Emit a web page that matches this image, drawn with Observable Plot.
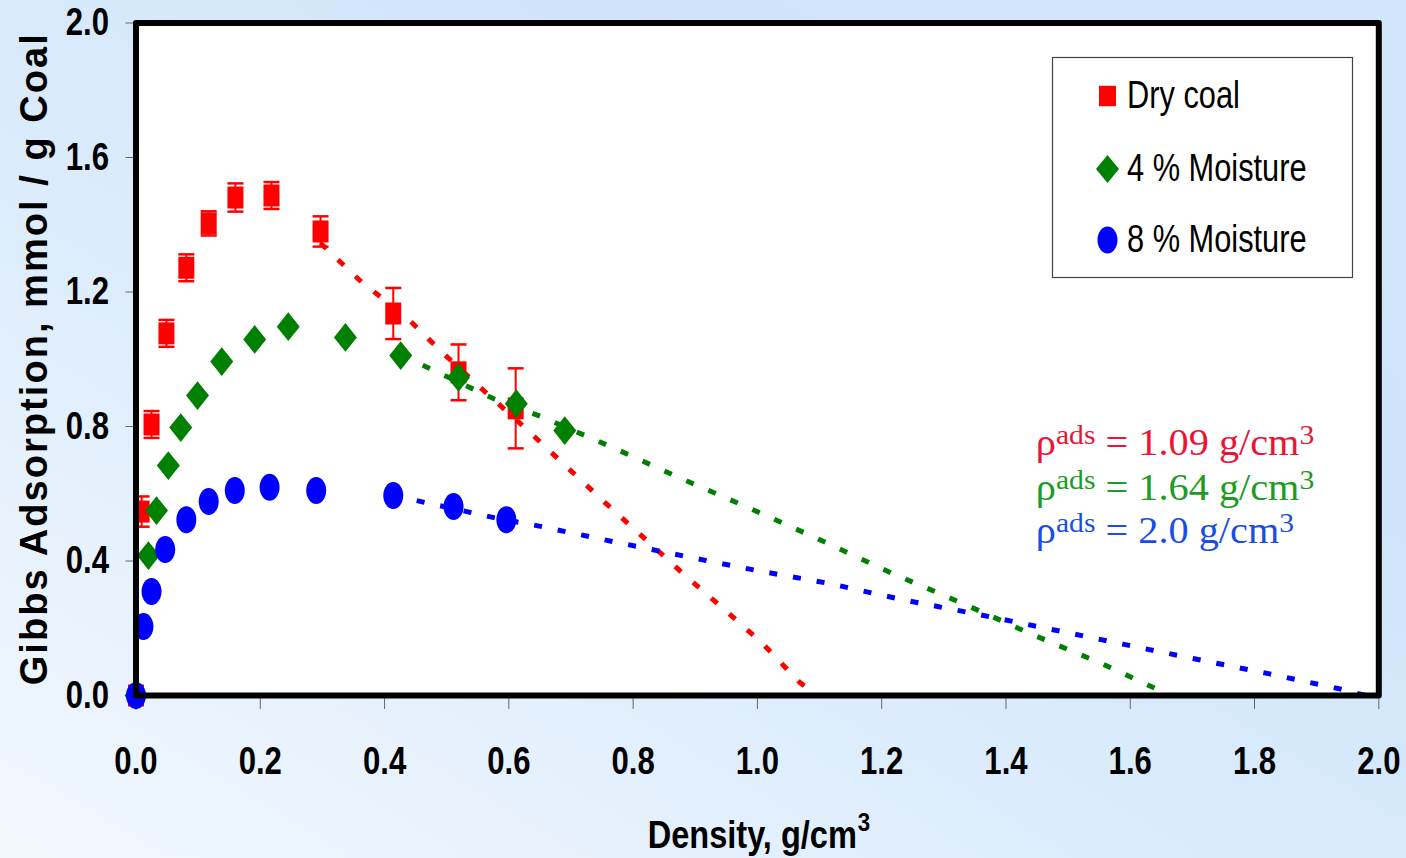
<!DOCTYPE html>
<html><head><meta charset="utf-8">
<script src="https://cdn.jsdelivr.net/npm/d3@7"></script>
<script src="https://cdn.jsdelivr.net/npm/@observablehq/plot@0.6"></script>
<style>
html,body{margin:0;padding:0;}
body{width:1406px;height:858px;overflow:hidden;position:relative;
background:linear-gradient(to top right,#f2f8fe 0%,#dcecfc 40%,#cfe4fa 70%,#d2e6fb 100%);}
#chart{position:absolute;left:0;top:0;}
</style></head><body><div id="chart"></div>
<script>
// ---- Data ----
const dryX   = [0, 0.009, 0.025, 0.049, 0.081, 0.117, 0.160, 0.218, 0.297, 0.414, 0.519, 0.611];
const dryY   = [0, 0.547, 0.806, 1.077, 1.272, 1.404, 1.481, 1.487, 1.380, 1.136, 0.961, 0.854];
const dryErr = [0, 0.045, 0.040, 0.040, 0.040, 0.036, 0.042, 0.040, 0.045, 0.076, 0.083, 0.119];

const m4X = [0, 0.020, 0.033, 0.052, 0.072, 0.099, 0.138, 0.191, 0.245, 0.337, 0.426, 0.519, 0.612, 0.690];
const m4Y = [0, 0.416, 0.550, 0.684, 0.797, 0.892, 0.993, 1.059, 1.097, 1.065, 1.011, 0.946, 0.868, 0.788];

const m8X = [0, 0.012, 0.025, 0.047, 0.081, 0.117, 0.159, 0.215, 0.290, 0.414, 0.511, 0.596];
const m8Y = [0, 0.205, 0.309, 0.434, 0.523, 0.577, 0.610, 0.619, 0.610, 0.595, 0.562, 0.523];

// model fits (dotted lines)
const dryFitX = [0.297, 0.364, 0.434, 0.493, 0.554, 0.622, 0.751, 0.813, 0.880, 0.945, 1.008, 1.068, 1.098];
const dryFitY = [1.345, 1.228, 1.127, 1.020, 0.916, 0.803, 0.580, 0.476, 0.363, 0.259, 0.155, 0.039, 0];
const m4FitX = [0.426, 0.463, 0.575, 0.651, 0.763, 0.874, 0.985, 1.096, 1.217, 1.330, 1.443, 1.554, 1.665];
const m4FitY = [1.011, 0.981, 0.883, 0.830, 0.741, 0.648, 0.559, 0.467, 0.363, 0.274, 0.181, 0.095, 0];
const m8FitX = [0.414, 0.576, 0.651, 0.767, 0.886, 0.998, 1.116, 1.233, 1.348, 1.467, 1.590, 1.701, 1.822, 1.934, 1.979];
const m8FitY = [0.595, 0.529, 0.503, 0.458, 0.413, 0.372, 0.333, 0.285, 0.244, 0.199, 0.152, 0.110, 0.065, 0.021, 0];

const seriesNames = ["Dry coal", "4 % Moisture", "8 % Moisture"];
const seriesColors = ["#ff0000", "#008000", "#0000ff"];
const rhoValues = ["1.09", "1.64", "2.0"];
const rhoColors = ["#ea1434", "#1c9c22", "#1a4ee2"];
const rhoAnchorX = [1.448, 1.448, 1.448];
const rhoAnchorY = [0.714, 0.580, 0.455];

const xTicks = d3.range(0, 2.001, 0.2);
const yTicks = d3.range(0, 2.001, 0.4);
const xTitle = "Density, g/cm";
const yTitle = "Gibbs Adsorption, mmol / g Coal";

// ---- tables ----
const zip = (xs, ys, extra) => xs.map((x, i) => ({x, y: ys[i], e: extra ? extra[i] : 0}));
const dry = zip(dryX, dryY, dryErr);
const m4 = zip(m4X, m4Y);
const m8 = zip(m8X, m8Y);
const dryFit = zip(dryFitX, dryFitY);
const m4Fit = zip(m4FitX, m4FitY);
const m8Fit = zip(m8FitX, m8FitY);
const ann = rhoValues.map((v, i) => ({v, x: rhoAnchorX[i], y: rhoAnchorY[i], c: rhoColors[i]}));

// ---- custom (vertically stretched) symbols ----
const rectSym = a => ({draw(ctx, size) { const r = Math.sqrt(size / Math.PI), h = r * a;
  ctx.moveTo(-r, -h); ctx.lineTo(r, -h); ctx.lineTo(r, h); ctx.lineTo(-r, h); ctx.closePath(); }});
const diamondSym = a => ({draw(ctx, size) { const r = Math.sqrt(size / Math.PI), h = r * a;
  ctx.moveTo(0, -h); ctx.lineTo(r, 0); ctx.lineTo(0, h); ctx.lineTo(-r, 0); ctx.closePath(); }});
const ellipseSym = a => ({draw(ctx, size) { const r = Math.sqrt(size / Math.PI), h = r * a, k = 0.5523;
  ctx.moveTo(r, 0); ctx.bezierCurveTo(r, k*h, k*r, h, 0, h); ctx.bezierCurveTo(-k*r, h, -r, k*h, -r, 0);
  ctx.bezierCurveTo(-r, -k*h, -k*r, -h, 0, -h); ctx.bezierCurveTo(k*r, -h, r, -k*h, r, 0); ctx.closePath(); }});
const capSym = {draw(ctx, size) { const r = Math.sqrt(size / Math.PI); ctx.moveTo(-r, 0); ctx.lineTo(r, 0); }};

const sans = "'Liberation Sans',Arial,sans-serif";
const serif = "'Liberation Serif','DejaVu Serif',serif";
const W = 1406, H = 858;
const mL = 135.5, mR = 27.7, mT = 22.5, mB = 163;
const dash = {strokeWidth: 5, strokeDasharray: "8 16", strokeLinecap: "butt"};
const errs = dry.filter(d => d.e > 0);

const plot = Plot.plot({
  width: W, height: H,
  marginLeft: mL, marginRight: mR, marginTop: mT, marginBottom: mB,
  style: {background: "transparent", overflow: "visible"},
  x: {domain: [0, 2]},
  y: {domain: [0, 2]},
  marks: [
    Plot.frame({fill: "white"}),
    Plot.axisX({ticks: xTicks, tickFormat: d3.format(".1f"), tickSize: 14, tickPadding: 38, stroke: "#666",
      fill: "black", fontSize: 38, fontWeight: "bold", fontFamily: sans, label: null}),
    Plot.axisY({ticks: yTicks, tickFormat: d3.format(".1f"), tickSize: 10, tickPadding: 17, stroke: "#666",
      fill: "black", fontSize: 38, fontWeight: "bold", fontFamily: sans, label: null}),
    Plot.line(dryFit, {x: "x", y: "y", stroke: seriesColors[0], ...dash}),
    Plot.ruleX(errs, {x: "x", y1: d => d.y - d.e, y2: d => d.y + d.e, stroke: seriesColors[0], strokeWidth: 2}),
    Plot.dot(errs, {x: "x", y: d => d.y + d.e, symbol: capSym, r: 8, stroke: seriesColors[0], strokeWidth: 2.5, fill: "none"}),
    Plot.dot(errs, {x: "x", y: d => d.y - d.e, symbol: capSym, r: 8, stroke: seriesColors[0], strokeWidth: 2.5, fill: "none"}),
    Plot.dot(dry, {x: "x", y: "y", symbol: rectSym(1.375), r: 8, fill: seriesColors[0], stroke: "none"}),
    Plot.line(m4Fit, {x: "x", y: "y", stroke: seriesColors[1], ...dash}),
    Plot.dot(m4, {x: "x", y: "y", symbol: diamondSym(1.25), r: 11.5, fill: seriesColors[1], stroke: "none"}),
    Plot.line(m8Fit, {x: "x", y: "y", stroke: seriesColors[2], ...dash}),
    Plot.dot(m8, {x: "x", y: "y", symbol: ellipseSym(1.35), r: 10, fill: seriesColors[2], stroke: "none"}),
    Plot.text(ann, {x: "x", y: "y", text: d => d.v, fill: "c", textAnchor: "start", lineAnchor: "bottom",
      fontSize: 38, fontFamily: serif, className: "rho-ann"}),
    Plot.frame({stroke: "black", strokeWidth: 6, strokeLinejoin: "round"})
  ]
});
document.getElementById("chart").appendChild(plot);

const svg = d3.select(plot);
// horizontal squeeze / stretch of a text via textLength (emulates a narrow face)
function squeeze(node, f) {
  const w = node.getComputedTextLength();
  node.setAttribute("textLength", (w * f).toFixed(1));
  node.setAttribute("lengthAdjust", "spacingAndGlyphs");
}
svg.selectAll('g[aria-label="x-axis tick label"] text, g[aria-label="y-axis tick label"] text')
  .each(function() { squeeze(this, 0.82); });

// rebuild annotations with superscripts
svg.selectAll(".rho-ann text").each(function() {
  const t = d3.select(this); const v = t.text(); t.text(null);
  t.append("tspan").text("ρ");
  t.append("tspan").attr("font-size", "28px").attr("dy", "-11").text("ads");
  t.append("tspan").attr("dy", "11").text(` = ${v} g/cm`);
  t.append("tspan").attr("font-size", "28px").attr("dy", "-11").text("3");
  squeeze(this, 1.06);
});

const xs = plot.scale("x"), ys = plot.scale("y");
const xr = xs.range, yr = ys.range;
// y axis title
svg.append("text")
  .attr("transform", `translate(47,${(yr[0] + yr[1]) / 2 + 1}) rotate(-90)`)
  .attr("text-anchor", "middle").attr("font-family", sans)
  .attr("font-weight", "bold").attr("font-size", 38)
  .attr("textLength", 651).attr("lengthAdjust", "spacing").text(yTitle);
// x axis title
const xt = svg.append("text")
  .attr("x", (xr[0] + xr[1]) / 2 + 2).attr("y", 848)
  .attr("text-anchor", "middle").attr("font-family", sans)
  .attr("font-weight", "bold").attr("font-size", 38);
xt.append("tspan").text(xTitle);
xt.append("tspan").attr("font-size", 26).attr("dx", 1).attr("dy", -17).text("3");
squeeze(xt.node(), 0.86);

// legend (inside plot area, top right)
const lg = svg.append("g").attr("text-anchor", "start");
lg.append("rect").attr("x", 1052.5).attr("y", 57.5).attr("width", 300).attr("height", 220)
  .attr("fill", "white").attr("stroke", "#444").attr("stroke-width", 1.2);
const lgY = [96, 169, 240];
const lgPaths = [
  d3.symbol(rectSym(1.2), Math.PI * 8.5 * 8.5)(),
  d3.symbol(diamondSym(1.22), Math.PI * 11.5 * 11.5)(),
  d3.symbol(ellipseSym(1.35), Math.PI * 10 * 10)()
];
seriesNames.forEach((name, i) => {
  lg.append("path").attr("d", lgPaths[i]).attr("transform", `translate(1107.5,${lgY[i]})`).attr("fill", seriesColors[i]);
  const t = lg.append("text").attr("x", 1127).attr("y", lgY[i] + 12).attr("font-family", sans)
    .attr("font-size", 38).attr("fill", "black").text(name);
  squeeze(t.node(), 0.81);
});
</script>
</body></html>
